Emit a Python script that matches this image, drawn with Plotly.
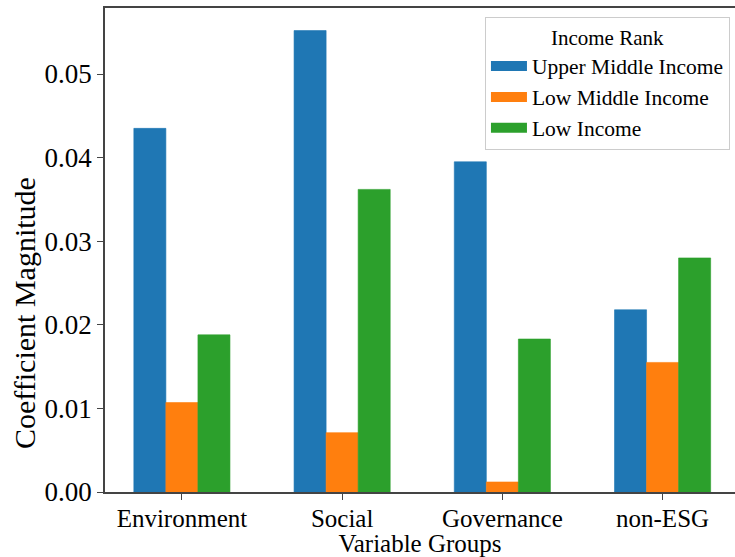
import plotly.graph_objects as go

categories = ["Environment", "Social", "Governance", "non-ESG"]
series_names = ["Upper Middle Income", "Low Middle Income", "Low Income"]
upper_middle = [0.0435, 0.0552, 0.0395, 0.0218]
low_middle = [0.0107, 0.0071, 0.0012, 0.0155]
low_income = [0.0188, 0.0362, 0.0183, 0.0280]
y_ticks = [0.00, 0.01, 0.02, 0.03, 0.04, 0.05]
colors = ["#1f77b4", "#ff7f0e", "#2ca02c"]

FONT = "Liberation Serif"

fig = go.Figure()
for name, vals, c in zip(series_names, [upper_middle, low_middle, low_income], colors):
    fig.add_trace(go.Bar(
        x=categories, y=vals, name=name, showlegend=False,
        marker=dict(color=c, line=dict(color=c, width=0.6)),
    ))
# legend entries with wide swatches
for name, c in zip(series_names, colors):
    fig.add_trace(go.Scatter(
        x=[None], y=[None], mode="lines", name=name,
        line=dict(color=c, width=11), showlegend=True,
    ))

fig.update_layout(
    width=735, height=557,
    margin=dict(l=105, r=0, t=8, b=65),
    paper_bgcolor="white", plot_bgcolor="white",
    barmode="group", bargap=0.4, bargroupgap=0,
    font=dict(family=FONT, color="black", size=25),
    showlegend=True,
    legend=dict(
        title=dict(text="Income Rank", side="top center", font=dict(size=21, family=FONT)),
        font=dict(size=21.5, family=FONT),
        x=0.992, xanchor="right", y=0.981, yanchor="top",
        bgcolor="white", bordercolor="#cccccc", borderwidth=1,
        itemwidth=36, tracegroupgap=0,
    ),
    xaxis=dict(
        type="category", range=[-0.48, 3.452],
        showline=True, linecolor="#444", linewidth=1.5, mirror=True,
        ticks="outside", ticklen=6, tickcolor="#444", tickwidth=1.2,
        ticklabelstandoff=-3,
        tickfont=dict(size=25, family=FONT),
        title=dict(text="Variable Groups", font=dict(size=25, family=FONT), standoff=12),
        showgrid=False, zeroline=False, automargin=False,
    ),
    yaxis=dict(
        range=[0, 0.0579], tickvals=y_ticks, tickformat=".2f",
        showline=True, linecolor="#444", linewidth=1.5, mirror=False,
        ticks="outside", ticklen=6, tickcolor="#444", tickwidth=1.2,
        tickfont=dict(size=27, family=FONT),
        showgrid=False, zeroline=False, automargin=False,
    ),
    annotations=[dict(
        text="Coefficient Magnitude", textangle=-90,
        xref="paper", yref="paper", x=(24 - 105) / 630, y=(492 - 313) / 484,
        xanchor="center", yanchor="middle", showarrow=False,
        font=dict(size=30, family=FONT, color="black"),
    )],
)

fig.write_html("out.html")
